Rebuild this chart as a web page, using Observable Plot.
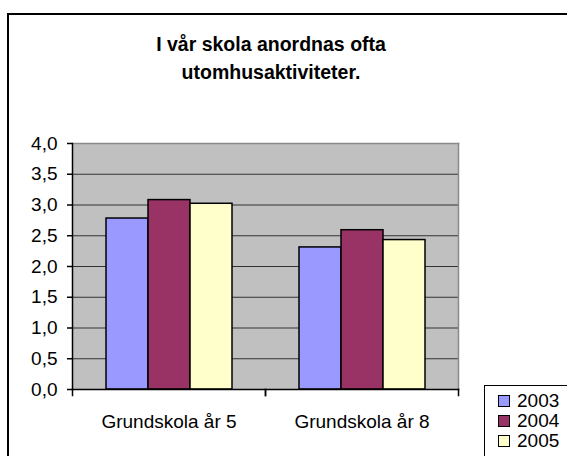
<!DOCTYPE html>
<html>
<head>
<meta charset="utf-8">
<script src="https://cdn.jsdelivr.net/npm/d3@7"></script>
<script src="https://cdn.jsdelivr.net/npm/@observablehq/plot@0.6"></script>
<style>
  html, body { margin: 0; padding: 0; background: white; overflow: hidden; }
  #wrap { position: relative; width: 567px; height: 456px; overflow: hidden; background: white;
          font-family: "Liberation Sans", Arial, sans-serif; color: black; }
  #box { position: absolute; left: 7px; top: 13px; width: 620px; height: 520px; border: 2px solid #000; }
  #title { position: absolute; left: 0; top: 30px; width: 542px; text-align: center;
           font-weight: bold; font-size: 19.5px; line-height: 28px; }
  #chart { position: absolute; left: 0; top: 0; }
  #legend { position: absolute; left: 484px; top: 385px; width: 120px; height: 100px;
            border: 1.5px solid #000; background: white; padding: 5px 0 0 13px; box-sizing: border-box; }
  .item { display: flex; align-items: center; height: 20px; font-size: 19px; }
  .sw { width: 10px; height: 10px; border: 1.5px solid #000; margin-right: 7px; }
</style>
</head>
<body>
<div id="wrap">
  <div id="box"></div>
  <div id="title">I vår skola anordnas ofta<br>utomhusaktiviteter.</div>
  <div id="chart"></div>
  <div id="legend"></div>
</div>
<script>
const groups = ["Grundskola år 5", "Grundskola år 8"];
const years = ["2003", "2004", "2005"];
const values2003 = [2.78, 2.31];
const values2004 = [3.08, 2.59];
const values2005 = [3.02, 2.43];
const colors = ["#9999FF", "#993366", "#FFFFCC"];
const yTicks = [0, 0.5, 1, 1.5, 2, 2.5, 3, 3.5, 4];

const series = [values2003, values2004, values2005];
const rows = [];
groups.forEach((g, gi) => years.forEach((y, yi) => rows.push({group: g, year: y, value: series[yi][gi]})));

const fmt = d => d.toFixed(1).replace(".", ",");

const chart = Plot.plot({
  width: 567,
  height: 456,
  marginLeft: 72,
  marginRight: 109,
  marginTop: 143,
  marginBottom: 67,
  style: { fontFamily: "'Liberation Sans', Arial, sans-serif", fontSize: "19px", background: "transparent", color: "black" },
  fx: { domain: groups, padding: 0, axis: null, label: null },
  x: { domain: years, paddingInner: 0, paddingOuter: 0.76, axis: null },
  y: { domain: [0, 4], axis: null },
  color: { domain: years, range: colors },
  marks: [
    Plot.frame({ facet: "super", fill: "#C0C0C0" }),
    Plot.ruleY(yTicks.filter(v => v > 0 && v < 4), { stroke: "#333", strokeWidth: 1.2 }),
    Plot.barY(rows, { fx: "group", x: "year", y: "value", fill: "year", stroke: "black", strokeWidth: 1.5 }),
    Plot.frame({ facet: "super", anchor: "top", stroke: "#8a8a8a", strokeWidth: 1.5 }),
    Plot.frame({ facet: "super", anchor: "right", stroke: "#8a8a8a", strokeWidth: 1.5 }),
    Plot.frame({ facet: "super", anchor: "bottom", stroke: "black", strokeWidth: 1.5 }),
    Plot.frame({ anchor: "left", stroke: "black", strokeWidth: 1.5, insetTop: 246, insetBottom: -6 }),
    Plot.frame({ anchor: "right", stroke: "black", strokeWidth: 1.5, insetTop: 246, insetBottom: -6 }),
    Plot.frame({ facet: "super", anchor: "left", stroke: "black", strokeWidth: 1.5 }),
    Plot.axisY({ ticks: yTicks, tickFormat: fmt, tickSize: 5, tickPadding: 10, label: null, strokeWidth: 1.5 }),
    Plot.axisFx({ anchor: "bottom", tickSize: 0, tickPadding: 25, label: null })
  ]
});
document.getElementById("chart").appendChild(chart);

const legend = document.getElementById("legend");
years.forEach((y, i) => {
  const item = document.createElement("div");
  item.className = "item";
  const sw = document.createElement("div");
  sw.className = "sw";
  sw.style.background = colors[i];
  item.appendChild(sw);
  item.appendChild(document.createTextNode(y));
  legend.appendChild(item);
});
</script>
</body>
</html>
